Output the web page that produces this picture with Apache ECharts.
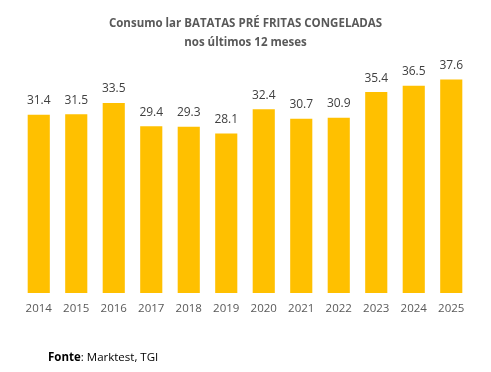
<!DOCTYPE html>
<html><head><meta charset="utf-8">
<script src="https://cdn.jsdelivr.net/npm/echarts@6/dist/echarts.min.js"></script>
<style>html,body{margin:0;padding:0;background:#fff}#c{width:491px;height:372px}</style>
</head><body><div id="c"></div>
<script>
const categories = ['2014','2015','2016','2017','2018','2019','2020','2021','2022','2023','2024','2025'];
const values = [31.4,31.5,33.5,29.4,29.3,28.1,32.4,30.7,30.9,35.4,36.5,37.6];
const chart = echarts.init(document.getElementById('c'));
const ff = 'Open Sans, Liberation Sans, sans-serif';
chart.setOption({
  animation:false,
  title:{text:'Consumo lar BATATAS PRÉ FRITAS CONGELADAS\nnos últimos 12 meses',left:'center',top:9,
    textStyle:{fontFamily:ff,fontSize:11.5,fontWeight:'bold',color:'#595959',lineHeight:19}},
  graphic:[{type:'text',left:48,top:352,style:{rich:{b:{fontWeight:'bold',fontFamily:ff,fontSize:11.5,fill:'#000'},n:{fontFamily:ff,fontSize:11.5,fill:'#000'}},text:'{b|Fonte}{n|: Marktest, TGI}'}}],
  grid:{left:20,right:21,top:66,bottom:79},
  xAxis:{type:'category',data:categories,axisLine:{show:false},axisTick:{show:false},
    axisLabel:{fontFamily:ff,fontSize:11.5,color:'#595959',margin:10}},
  yAxis:{type:'value',min:0,max:40,show:false,splitLine:{show:false}},
  series:[{type:'bar',data:values,barWidth:'59%',itemStyle:{color:'#FFC000'},
    label:{show:true,position:'top',distance:8,fontFamily:ff,fontSize:12,color:'#404040',formatter:p=>p.value.toFixed(1)}}]
});
</script></body></html>
